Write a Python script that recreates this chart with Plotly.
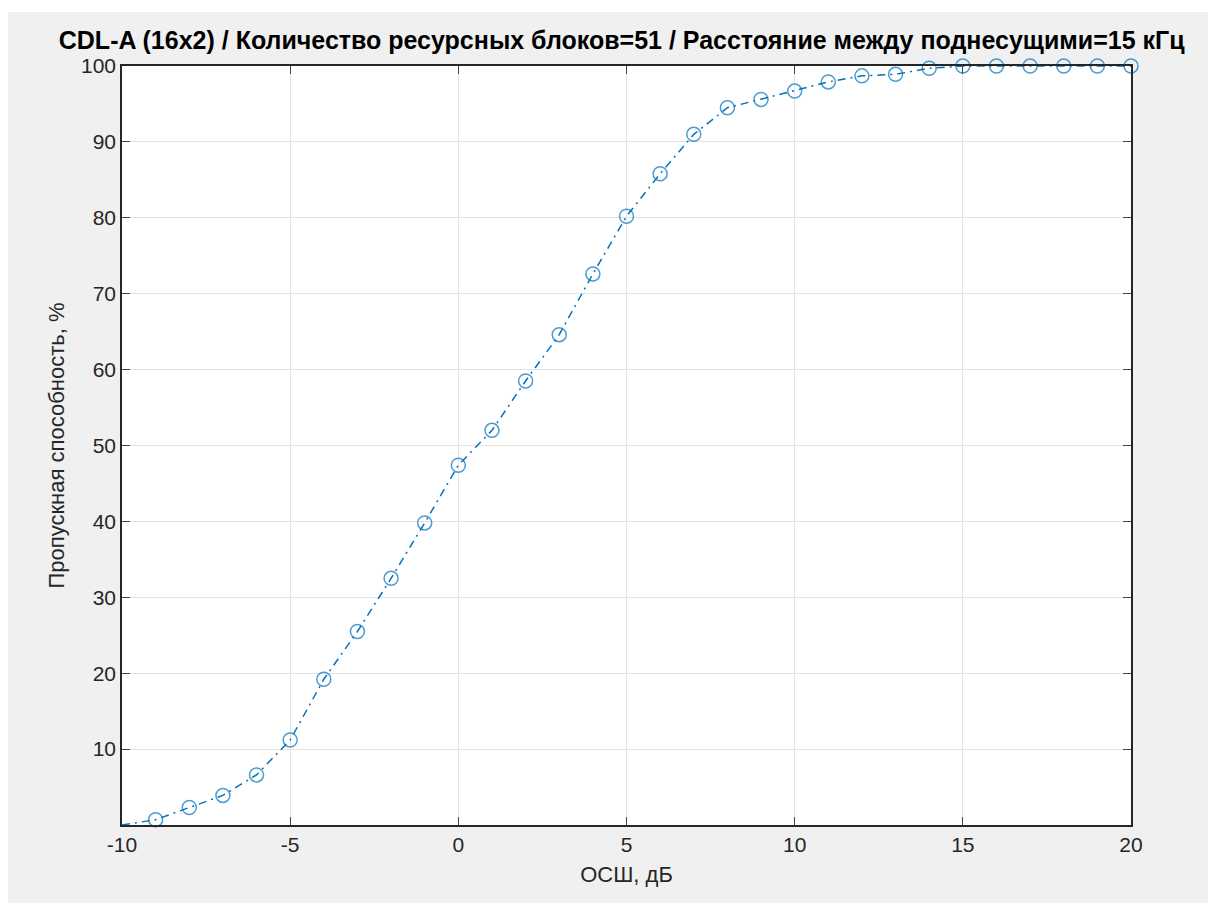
import plotly.graph_objects as go

snr_db = list(range(-10, 21))
throughput = [0.0, 0.7, 2.3, 3.9, 6.6, 11.2, 19.2, 25.5, 32.5, 39.8, 47.4, 52.0, 58.5, 64.6,
              72.6, 80.2, 85.8, 91.0, 94.5, 95.6, 96.7, 97.9, 98.7, 98.9, 99.7,
              100.0, 100.0, 100.0, 100.0, 100.0, 100.0]
x_ticks = [-10, -5, 0, 5, 10, 15, 20]
x_tick_labels = ["-10", "-5", "0", "5", "10", "15", "20"]
y_ticks = [10, 20, 30, 40, 50, 60, 70, 80, 90, 100]

title = "CDL-A (16x2) / Количество ресурсных блоков=51 / Расстояние между поднесущими=15 кГц"

W, H = 1208, 895
ML, MR, MT, MB = 114, 85, 58, 78
PH = H - MT - MB

# first point sits in the axes corner and shows no marker in the original
marker_sizes = [0] + [14] * (len(snr_db) - 1)

fig = go.Figure()
fig.add_trace(go.Scatter(
    x=snr_db, y=throughput, mode="lines+markers",
    line=dict(color="#0072BD", width=1.5, dash="8px,5px,2px,5px"),
    marker=dict(symbol="circle-open", size=marker_sizes, color="#0072BD", line=dict(width=1.5)),
    cliponaxis=False, showlegend=False,
))

fig.update_layout(
    width=W, height=H,
    paper_bgcolor="#f0f0f0", plot_bgcolor="#ffffff",
    margin=dict(l=ML, r=MR, t=MT, b=MB),
    font=dict(family="Liberation Sans, Arial", color="#262626"),
    title=dict(text="<b>" + title + "</b>", x=0.508, xanchor="center", y=1 - 32 / H, yanchor="middle",
               font=dict(size=25, color="#000000")),
    shapes=[dict(type="rect", xref="paper", yref="paper", x0=-0.2, x1=1.2,
                 y0=1 + (MT - 4) / PH, y1=1 + (MT + 2) / PH,
                 fillcolor="#ffffff", line=dict(width=0), layer="below")],
)
fig.update_xaxes(range=[-10, 20], tickvals=x_ticks, ticktext=x_tick_labels, ticks="inside", ticklen=8,
                 showline=True, linecolor="#262626", linewidth=1.5, mirror="ticks",
                 showgrid=True, gridcolor="#e3e3e3", gridwidth=1, zeroline=False,
                 tickfont=dict(size=21), title=dict(text="ОСШ, дБ", font=dict(size=22), standoff=12),
                 fixedrange=True)
fig.update_yaxes(range=[0, 100], tickvals=y_ticks, ticks="inside", ticklen=8,
                 showline=True, linecolor="#262626", linewidth=1.5, mirror="ticks",
                 showgrid=True, gridcolor="#e3e3e3", gridwidth=1, zeroline=False,
                 tickfont=dict(size=21), title=dict(text="Пропускная способность, %", font=dict(size=22), standoff=10),
                 fixedrange=True)

fig.write_html("out.html")
